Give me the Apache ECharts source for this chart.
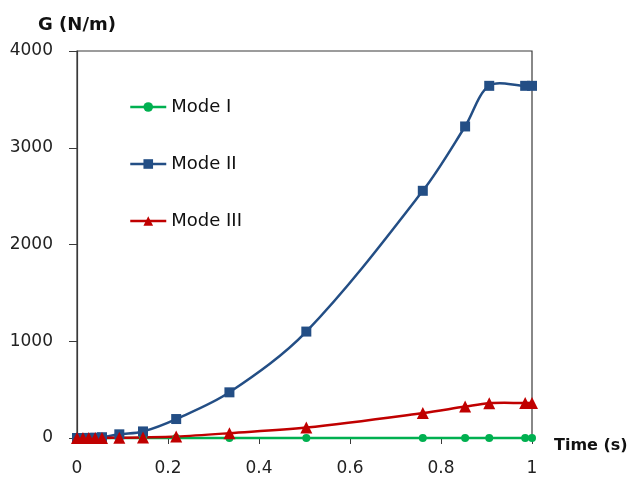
<!DOCTYPE html>
<html>
<head>
<meta charset="utf-8">
<script src="https://cdn.jsdelivr.net/npm/echarts@6/dist/echarts.min.js"></script>
<style>
  html, body { margin: 0; padding: 0; background: #fff; }
  #chart { width: 631px; height: 478px; }
</style>
</head>
<body>
<div id="chart"></div>
<script>
// Energy release rate G for each fracture mode over time
const time    = [0, 0.013, 0.026, 0.04, 0.055, 0.093, 0.145, 0.218, 0.335, 0.504, 0.76, 0.853, 0.906, 0.985, 1.0];
const modeI   = [0, 0, 0, 0, 0, 0, 0, 0, 0, 0, 0, 0, 0, 0, 0];
const modeII  = [0, 0, 1, 3, 8, 38, 68, 196, 472, 1100, 2555, 3220, 3640, 3640, 3640];
const modeIII = [0, 0, 0, 0, 1, 3, 6, 15, 50, 108, 258, 325, 360, 362, 362];
const yTicks  = [0, 1000, 2000, 3000, 4000];
const xTicks  = [0, 0.2, 0.4, 0.6, 0.8, 1];

const FONT = 'DejaVu Sans';
const AXIS = '#3a3a3a';
const C_I = '#00B050', C_II = '#234E85', C_III = '#C00000';

const pair = (ys) => time.map((t, i) => [t, ys[i]]);

// Smooth curve through the data: cubic Hermite segments with tangents
// scaled by chord length, positioned with the grid's coordinate system.
function smoothCurve(ys, color) {
  return {
    type: 'custom',
    silent: true,
    z: 1,
    data: [[time[0], ys[0]]],
    renderItem: function (params, api) {
      const p = time.map((t, i) => api.coord([t, ys[i]]));
      const n = p.length;
      const dist = (a, b) => Math.hypot(b[0] - a[0], b[1] - a[1]);
      const seg = [];
      for (let i = 0; i < n - 1; i++) seg.push(dist(p[i], p[i + 1]));
      // unit-per-length tangent at each point
      const tan = p.map((pt, i) => {
        const a = p[Math.max(i - 1, 0)], b = p[Math.min(i + 1, n - 1)];
        const L = (i > 0 ? seg[i - 1] : 0) + (i < n - 1 ? seg[i] : 0);
        if (L === 0) return [0, 0];
        return [(b[0] - a[0]) / L, (b[1] - a[1]) / L];
      });
      let d = 'M' + p[0][0] + ',' + p[0][1];
      for (let i = 0; i < n - 1; i++) {
        const h = seg[i] / 3;
        const c1x = p[i][0] + tan[i][0] * h, c1y = p[i][1] + tan[i][1] * h;
        const c2x = p[i + 1][0] - tan[i + 1][0] * h, c2y = p[i + 1][1] - tan[i + 1][1] * h;
        d += ' C' + c1x + ',' + c1y + ' ' + c2x + ',' + c2y + ' ' + p[i + 1][0] + ',' + p[i + 1][1];
      }
      return {
        type: 'path',
        shape: { pathData: d },
        style: { fill: null, stroke: color, lineWidth: 2.5 }
      };
    }
  };
}

// Marker series (line itself hidden; the curve above draws it)
function markers(name, ys, symbol, size, color) {
  return {
    name: name, type: 'line',
    data: pair(ys),
    z: 3,
    symbol: symbol, symbolSize: size,
    showAllSymbol: true,
    lineStyle: { color: color, width: 2.5, opacity: 0 },
    itemStyle: { color: color }
  };
}

const chart = echarts.init(document.getElementById('chart'), null, { renderer: 'canvas' });

chart.setOption({
  animation: false,
  backgroundColor: '#ffffff',
  textStyle: { fontFamily: FONT },
  grid: {
    left: 77, right: 99, top: 51, bottom: 40,
    show: true, borderColor: AXIS, borderWidth: 1.2,
    containLabel: false
  },
  legend: {
    orient: 'vertical',
    left: 124, top: 93,
    itemWidth: 36, itemHeight: 12,
    itemGap: 39,
    lineStyle: { width: 2.5, opacity: 1 },
    textStyle: { fontFamily: FONT, fontSize: 18, color: '#111' },
    data: ['Mode I', 'Mode II', 'Mode III']
  },
  xAxis: {
    type: 'value',
    min: xTicks[0], max: xTicks[xTicks.length - 1], interval: 0.2,
    name: 'Time (s)',
    nameLocation: 'end',
    nameGap: 22,
    nameTextStyle: { fontFamily: FONT, fontSize: 16, fontWeight: 'bold', color: '#111', verticalAlign: 'top' },
    axisLine: { onZero: false, lineStyle: { color: AXIS, width: 1.2 } },
    axisTick: { show: true, inside: false, length: 6, lineStyle: { color: AXIS } },
    splitLine: { show: false },
    axisLabel: { margin: 22, fontFamily: FONT, fontSize: 17, color: '#222',
      formatter: (v) => String(Math.round(v * 10) / 10) }
  },
  yAxis: {
    type: 'value',
    min: yTicks[0], max: yTicks[yTicks.length - 1], interval: 1000,
    name: 'G (N/m)',
    nameLocation: 'end',
    nameGap: 17,
    nameTextStyle: { fontFamily: FONT, fontSize: 18, fontWeight: 'bold', color: '#111' },
    axisLine: { show: true, lineStyle: { color: AXIS, width: 1.2 } },
    axisTick: { show: true, inside: false, length: 8, lineStyle: { color: AXIS } },
    splitLine: { show: false },
    axisLabel: { margin: 24, fontFamily: FONT, fontSize: 17, color: '#222',
      formatter: (v) => String(v) }
  },
  series: [
    smoothCurve(modeI, C_I),
    smoothCurve(modeII, C_II),
    smoothCurve(modeIII, C_III),
    markers('Mode I', modeI, 'circle', 8, C_I),
    markers('Mode II', modeII, 'rect', 10, C_II),
    markers('Mode III', modeIII, 'triangle', 12, C_III)
  ]
});
</script>
</body>
</html>
